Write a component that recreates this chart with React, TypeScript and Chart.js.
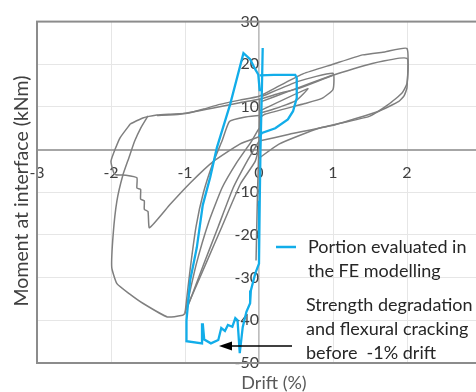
import React, { useEffect, useRef } from "react";
import { Chart, registerables } from "chart.js";
Chart.register(...registerables);

type Pt = [number, number];

// ---- axes ----
const X_MIN = -3;
const X_MAX = 3;
const Y_MIN = -50;
const Y_MAX = 30;
const X_STEP = 1;
const Y_STEP = 10;

const xAxisTitle = "Drift (%)";
const yAxisTitle = "Moment at interface (kNm)";
const legendLines = ["Portion evaluated in", "the FE modelling"];
const noteLines = ["Strength degradation", "and flexural cracking", "before  -1% drift"];

// ---- gray hysteresis curves (drift %, moment kNm) ----
const envelopeUpper: Pt[] = [
  [-1.74, 6.0], [-1.57, 7.4], [-1.38, 8.1], [-1.2, 8.3], [-0.97, 8.5], [-0.75, 9.5],
  [-0.53, 10.6], [-0.26, 11.6], [0, 12.5], [0.28, 15.0], [0.6, 17.8], [1.0, 20.0],
  [1.4, 22.2], [1.7, 22.9], [2.0, 23.7], [2.0, 14.5], [1.96, 12.6], [1.89, 11.3],
  [1.62, 9.0], [1.04, 5.9], [0.41, 3.6], [0, 2.0],
];
const secondUpper: Pt[] = [
  [-1.38, 8.0], [-1.07, 8.3], [-0.6, 9.8], [-0.26, 11.0], [0, 11.8], [0.28, 13.2],
  [0.53, 14.3], [1.03, 17.6], [1.53, 20.2], [2.0, 21.4], [2.0, 15.5], [1.93, 13.2],
  [1.75, 10.6], [1.49, 7.8], [0.81, 5.0], [0.27, 1.3], [0, -2.0],
];
const stepBranch: Pt[] = [
  [-1.74, 6.0], [-1.88, 2.7], [-2.0, -2.7], [-1.95, -5.8], [-1.8, -6.0], [-1.65, -6.6],
  [-1.65, -9.0], [-1.6, -9.3], [-1.6, -11.6], [-1.55, -12.0], [-1.55, -14.0], [-1.5, -14.5],
  [-1.48, -18.3], [-1.2, -12.8], [-0.93, -7.8], [-0.62, -2.8], [-0.26, 1.3], [0, 3.0],
];
const outerBranch: Pt[] = [
  [-1.5, 7.9], [-1.6, 5.0], [-1.68, 2.0], [-1.76, -2.0], [-1.84, -6.0], [-1.92, -12.0],
  [-1.97, -19.7], [-1.99, -27.6], [-1.92, -31.4], [-1.75, -33.8], [-1.57, -36.0],
  [-1.24, -39.2], [-1.03, -38.8], [-1.0, -38.4],
];
const fan1: Pt[] = [
  [-1.0, -38.4], [-0.93, -28], [-0.85, -18], [-0.75, -10], [-0.62, -3], [-0.5, 2],
  [-0.4, 6.6], [-0.2, 7.6], [0, 8.0],
];
const fan2: Pt[] = [
  [-1.0, -38.4], [-0.85, -27], [-0.68, -17], [-0.5, -9], [-0.3, -3], [-0.1, 2], [0, 5],
];
const fan3: Pt[] = [
  [-0.98, -37.5], [-0.75, -27], [-0.55, -18], [-0.35, -9], [-0.16, -2.7], [0, 2],
];
const fan4: Pt[] = [
  [-0.95, -36], [-0.7, -26], [-0.5, -18], [-0.25, -8], [-0.05, -2.7], [0.02, 2],
];
const loop1Upper: Pt[] = [
  [0.04, 12.5], [0.53, 16.0], [1.0, 17.9], [1.0, 14.1], [0.85, 12.0], [0.62, 10.8],
  [0.08, 8.3], [0, 7.4],
];
const loop1Second: Pt[] = [[0.04, 11.3], [0.39, 13.6], [1.0, 17.5]];
const loopHalf: Pt[] = [[0, 9.0], [0.66, 14.3], [0.5, 11.5], [0.2, 9.5], [0, 8.5]];
const grayVertical: Pt[] = [[0.01, 12], [0, 2], [-0.02, -10], [-0.04, -26]];

// ---- blue: portion evaluated in the FE modelling ----
const blueMain: Pt[] = [
  [0.05, 23.8], [0.04, 15], [0.02, 0], [0.01, -12], [0, -26.7], [-0.05, -29], [-0.11, -33],
  [-0.12, -36], [-0.17, -38], [-0.22, -41.6], [-0.26, -47.7], [-0.29, -40], [-0.32, -39.5],
  [-0.36, -41.5], [-0.42, -41.1], [-0.46, -42.5], [-0.51, -41.8], [-0.55, -44.6],
  [-0.65, -45.4], [-0.74, -44.5], [-0.76, -40.7], [-0.77, -45.4], [-0.98, -44.9],
  [-0.98, -40], [-0.93, -30.6], [-0.84, -22.9], [-0.76, -13], [-0.66, -6.5], [-0.57, 0.4],
  [-0.39, 10.6], [-0.21, 22.6], [-0.12, 21.2], [-0.05, 18.8], [-0.01, 17.6], [0.01, 13.7],
];
const blueRight: Pt[] = [
  [0.01, 17.4], [0.2, 17.5], [0.49, 17.5], [0.51, 16.8], [0.51, 12.1], [0.46, 9.0],
  [0.39, 7.1], [0.22, 5.0], [0.04, 3.9], [0, 3.0],
];

const grayCurves: Pt[][] = [
  envelopeUpper, secondUpper, stepBranch, outerBranch, fan1, fan2, fan3, fan4,
  loop1Upper, loop1Second, loopHalf, grayVertical,
];
const blueCurves: Pt[][] = [blueMain, blueRight];

const GRAY = "#7f7f7f";
const BLUE = "#12ADE9";
const FONT = "Lato, 'Open Sans', sans-serif";

const decor = {
  id: "decor",
  beforeDatasetsDraw(chart: any) {
    const { ctx, chartArea: a } = chart;
    ctx.save();
    ctx.strokeStyle = "#8c8c8c";
    ctx.lineWidth = 2;
    ctx.strokeRect(a.left, a.top, a.right - a.left, a.bottom - a.top);
    ctx.restore();
  },
  afterDraw(chart: any) {
    const { ctx } = chart;
    ctx.save();
    ctx.fillStyle = "#404040";
    ctx.font = `19.5px ${FONT}`;
    ctx.textAlign = "center";
    ctx.textBaseline = "middle";
    ctx.translate(22, 191);
    ctx.rotate(-Math.PI / 2);
    ctx.fillText(yAxisTitle, 0, 0);
    ctx.restore();

    ctx.save();
    ctx.fillStyle = "#595959";
    ctx.font = `18px ${FONT}`;
    ctx.textAlign = "center";
    ctx.textBaseline = "middle";
    ctx.fillText(xAxisTitle, 274, 383);

    // legend
    ctx.strokeStyle = BLUE;
    ctx.lineWidth = 2.5;
    ctx.beginPath();
    ctx.moveTo(276, 247);
    ctx.lineTo(296, 247);
    ctx.stroke();
    ctx.fillStyle = "#262626";
    ctx.font = `18px ${FONT}`;
    ctx.textAlign = "left";
    legendLines.forEach((t, i) => ctx.fillText(t, 308, 247 + i * 24));
    noteLines.forEach((t, i) => ctx.fillText(t, 306, 305 + i * 24));

    // arrow
    ctx.strokeStyle = "#000";
    ctx.lineWidth = 1.5;
    ctx.beginPath();
    ctx.moveTo(292, 346);
    ctx.lineTo(228, 346);
    ctx.stroke();
    ctx.fillStyle = "#000";
    ctx.beginPath();
    ctx.moveTo(219, 346);
    ctx.lineTo(232, 341.5);
    ctx.lineTo(232, 350.5);
    ctx.closePath();
    ctx.fill();
    ctx.restore();
  },
};

export default function App() {
  const ref = useRef<HTMLCanvasElement | null>(null);
  useEffect(() => {
    document.body.style.margin = "0";
    const canvas = ref.current!;
    const toData = (pts: Pt[]) => pts.map(([x, y]) => ({ x, y }));
    const datasets: any[] = [
      ...blueCurves.map((c) => ({
        data: toData(c),
        borderColor: BLUE,
        borderWidth: 2.3,
        pointRadius: 0,
        showLine: true,
        tension: 0,
      })),
      ...grayCurves.map((c) => ({
        data: toData(c),
        borderColor: GRAY,
        borderWidth: 1.5,
        pointRadius: 0,
        showLine: true,
        tension: 0.15,
      })),
    ];
    const chart = new Chart(canvas, {
      type: "scatter",
      data: { datasets },
      plugins: [decor],
      options: {
        responsive: false,
        animation: false,
        devicePixelRatio: 1,
        layout: { padding: { left: 37, top: 20, right: 19, bottom: 29 } },
        plugins: { legend: { display: false }, tooltip: { enabled: false } },
        scales: {
          x: {
            type: "linear",
            min: X_MIN,
            max: X_MAX,
            position: { y: 0 } as any,
            ticks: {
              stepSize: X_STEP,
              autoSkip: false,
              maxRotation: 0,
              padding: 14,
              color: "#404040",
              font: { family: FONT, size: 16 },
              callback: (v: any) => (v === X_MAX ? "" : String(v)),
            },
            grid: { color: "#e6e6e6", drawTicks: false },
            border: { color: "#a6a6a6", width: 2 },
          },
          y: {
            type: "linear",
            min: Y_MIN,
            max: Y_MAX,
            position: { x: 0 } as any,
            ticks: {
              stepSize: Y_STEP,
              autoSkip: false,
              padding: 12,
              color: "#404040",
              font: { family: FONT, size: 16 },
            },
            grid: { color: "#e6e6e6", drawTicks: false },
            border: { color: "#bdbdbd", width: 1.5 },
          },
        },
      },
    });
    return () => chart.destroy();
  }, []);
  return (
    <div style={{ position: "fixed", left: 0, top: 0, width: 476, height: 392, overflow: "hidden", background: "#fff" }}>
      <canvas ref={ref} width={500} height={392} style={{ width: 500, height: 392, display: "block" }} />
    </div>
  );
}
